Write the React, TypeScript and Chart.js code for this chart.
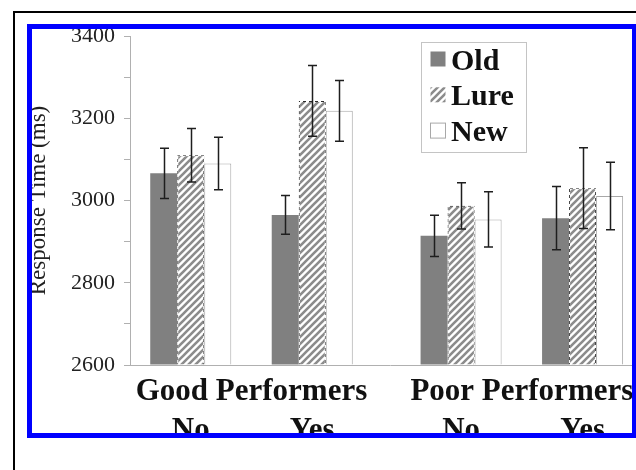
import React, { useEffect, useRef } from 'react';
import { Chart, registerables } from 'chart.js';

Chart.register(...registerables);

// ---- data ----
const GROUP_LABELS = ['Good Performers', 'Poor Performers'];
const CONDITION_LABELS = ['No', 'Yes', 'No', 'Yes'];
const SERIES_LABELS = ['Old', 'Lure', 'New'];
const OLD_VALUES = [3066, 2965, 2914, 2957];
const LURE_VALUES = [3110, 3242, 2987, 3030];
const NEW_VALUES = [3090, 3218, 2954, 3011];
const OLD_ERRORS = [61, 47, 50, 77];
const LURE_ERRORS = [65, 86, 56, 98];
const NEW_ERRORS = [64, 74, 67, 82];
const Y_MIN = 2600;
const Y_MAX = 3400;
const Y_MINOR_STEP = 100;
const Y_LABEL_STEP = 200;
const Y_TITLE = 'Response Time (ms)';

// ---- layout / style ----
const SERIF = "'Liberation Serif', 'Times New Roman', serif";
const GROUP_GAP = 0.225; // extra space between the two performer groups (category units)
const CANVAS_W = 700;
const CANVAS_H = 470;
const ERRORS = [OLD_ERRORS, LURE_ERRORS, NEW_ERRORS];

const catPos = (i: number) => i + Math.floor(i / 2) * GROUP_GAP;

function makeHatch(color: string, size: number, width: number) {
  const c = document.createElement('canvas');
  c.width = size;
  c.height = size;
  const g = c.getContext('2d')!;
  g.fillStyle = '#ffffff';
  g.fillRect(0, 0, size, size);
  g.strokeStyle = color;
  g.lineWidth = width;
  g.beginPath();
  g.moveTo(-1, size + 1);
  g.lineTo(size + 1, -1);
  g.moveTo(-size / 2 - 1, size / 2 + 1);
  g.lineTo(size / 2 + 1, -size / 2 - 1);
  g.moveTo(size / 2 - 1, size * 1.5 + 1);
  g.lineTo(size * 1.5 + 1, size / 2 - 1);
  g.stroke();
  return g.createPattern(c, 'repeat')!;
}

function makeDash(color: string, seg: number) {
  const c = document.createElement('canvas');
  c.width = seg * 2;
  c.height = seg * 2;
  const g = c.getContext('2d')!;
  g.fillStyle = color;
  g.fillRect(0, 0, seg, seg);
  g.fillRect(seg, seg, seg, seg);
  return g.createPattern(c, 'repeat')!;
}

const errorBarPlugin = {
  id: 'errorBars',
  afterDatasetsDraw(chart: any) {
    const { ctx } = chart;
    const y = chart.scales.y;
    ctx.save();
    ctx.strokeStyle = '#1e1e1e';
    ctx.lineWidth = 1.5;
    chart.data.datasets.forEach((ds: any, di: number) => {
      const meta = chart.getDatasetMeta(di);
      meta.data.forEach((bar: any, i: number) => {
        const v = ds.data[i].y;
        const e = ERRORS[di][i];
        const x = Math.round(bar.x) + 0.5;
        const yt = y.getPixelForValue(v + e);
        const yb = y.getPixelForValue(v - e);
        const cap = 4.5;
        ctx.beginPath();
        ctx.moveTo(x, yt);
        ctx.lineTo(x, yb);
        ctx.moveTo(x - cap, yt);
        ctx.lineTo(x + cap, yt);
        ctx.moveTo(x - cap, yb);
        ctx.lineTo(x + cap, yb);
        ctx.stroke();
      });
    });
    ctx.restore();
  },
};

const labelsAndLegendPlugin = {
  id: 'groupLabelsLegend',
  afterDraw(chart: any) {
    const { ctx } = chart;
    const xs = chart.scales.x;
    const bottom = chart.chartArea.bottom;
    ctx.save();
    ctx.fillStyle = '#111111';
    ctx.font = `bold 31px ${SERIF}`;
    ctx.textAlign = 'center';
    ctx.textBaseline = 'alphabetic';
    GROUP_LABELS.forEach((g, gi) => {
      const a = xs.getPixelForValue(catPos(gi * 2));
      const b = xs.getPixelForValue(catPos(gi * 2 + 1));
      ctx.fillText(g, (a + b) / 2, bottom + 35);
    });
    CONDITION_LABELS.forEach((c, i) => {
      ctx.fillText(c, xs.getPixelForValue(catPos(i)), bottom + 74);
    });

    // legend
    const bx = 421.5, by = 42.5, bw = 105, bh = 110;
    ctx.fillStyle = '#ffffff';
    ctx.fillRect(bx, by, bw, bh);
    ctx.strokeStyle = '#c4c4c4';
    ctx.lineWidth = 1;
    ctx.strokeRect(bx, by, bw, bh);
    ctx.font = `bold 30px ${SERIF}`;
    ctx.textAlign = 'left';
    chart.data.datasets.forEach((ds: any, di: number) => {
      const base = 69.5 + di * 35.8;
      const sy = base - 18;
      ctx.fillStyle = ds.backgroundColor;
      ctx.fillRect(430.5, sy, 15, 15);
      if (ds.legendBorder) {
        ctx.strokeStyle = ds.legendBorder;
        ctx.strokeRect(430.5, sy, 15, 15);
      }
      ctx.fillStyle = '#111111';
      ctx.fillText(ds.label, 451, base);
    });
    ctx.restore();
  },
};

export default function App() {
  const ref = useRef<HTMLCanvasElement>(null);

  useEffect(() => {
    const canvas = ref.current!;
    const hatch = makeHatch('#8c8c8c', 7, 2.6);
    const dash = makeDash('#2a2a2a', 3);
    const toPoints = (vals: number[]) => vals.map((v, i) => ({ x: catPos(i), y: v }));

    const chart = new Chart(canvas, {
      type: 'bar',
      data: {
        datasets: [
          {
            label: SERIES_LABELS[0],
            data: toPoints(OLD_VALUES),
            backgroundColor: '#808080',
            borderWidth: 0,
            base: Y_MIN,
          },
          {
            label: SERIES_LABELS[1],
            data: toPoints(LURE_VALUES),
            backgroundColor: hatch,
            borderColor: dash,
            borderWidth: 1,
            borderSkipped: 'start',
            base: Y_MIN,
          },
          {
            label: SERIES_LABELS[2],
            data: toPoints(NEW_VALUES),
            backgroundColor: '#ffffff',
            borderColor: '#a8a8a8',
            borderWidth: 1,
            borderSkipped: 'start',
            base: Y_MIN,
            legendBorder: '#a8a8a8',
          } as any,
        ],
      },
      options: {
        responsive: false,
        animation: false,
        devicePixelRatio: 1,
        layout: { padding: { left: 0, top: 36, right: CANVAS_W - 650, bottom: CANVAS_H - 365 } },
        datasets: { bar: { categoryPercentage: 0.667, barPercentage: 1 } },
        plugins: { legend: { display: false }, tooltip: { enabled: false } },
        scales: {
          x: {
            type: 'linear',
            min: -0.5,
            max: -0.5 + 520 / 121.5,
            offset: false,
            ticks: { display: false },
            grid: { display: true, drawOnChartArea: false, drawTicks: false, offset: false },
            border: { display: true, color: '#b0b0b0', width: 1 },
            afterBuildTicks: (s: any) => {
              s.ticks = CONDITION_LABELS.map((_, i) => ({ value: catPos(i) }));
            },
            afterFit: (s: any) => {
              s.height = 0;
            },
          },
          y: {
            type: 'linear',
            min: Y_MIN,
            max: Y_MAX,
            ticks: {
              stepSize: Y_MINOR_STEP,
              autoSkip: false,
              padding: 9,
              color: '#222222',
              font: { family: SERIF, size: 22 },
              callback: (v: any) => (Number(v) % Y_LABEL_STEP === 0 ? String(v) : ''),
            },
            grid: { display: true, drawOnChartArea: false, drawTicks: true, tickLength: 6, color: '#b0b0b0' },
            border: { display: true, color: '#b0b0b0', width: 1 },
            title: {
              display: true,
              text: Y_TITLE,
              color: '#222222',
              font: { family: SERIF, size: 23 },
              padding: { top: 25, bottom: 0 },
            },
            afterFit: (s: any) => {
              s.width = 130;
            },
          },
        },
      },
      plugins: [errorBarPlugin, labelsAndLegendPlugin],
    });
    return () => chart.destroy();
  }, []);

  return (
    <div style={{ position: 'fixed', left: 0, top: 0, width: 636, height: 470, background: '#ffffff', overflow: 'hidden' }}>
      <div
        style={{
          position: 'absolute',
          left: 13,
          top: 11,
          width: 700,
          height: 500,
          borderTop: '2px solid #000000',
          borderLeft: '2px solid #000000',
        }}
      />
      <div style={{ position: 'absolute', left: 32, top: 29, width: 600, height: 404, overflow: 'hidden' }}>
        <div style={{ position: 'absolute', left: -32, top: -29, width: CANVAS_W, height: CANVAS_H }}>
          <canvas ref={ref} width={CANVAS_W} height={CANVAS_H} style={{ width: CANVAS_W, height: CANVAS_H, display: 'block' }} />
        </div>
      </div>
      <div
        style={{
          position: 'absolute',
          left: 27,
          top: 24,
          width: 610,
          height: 414,
          border: '5px solid #0000ff',
          boxSizing: 'border-box',
        }}
      />
    </div>
  );
}
